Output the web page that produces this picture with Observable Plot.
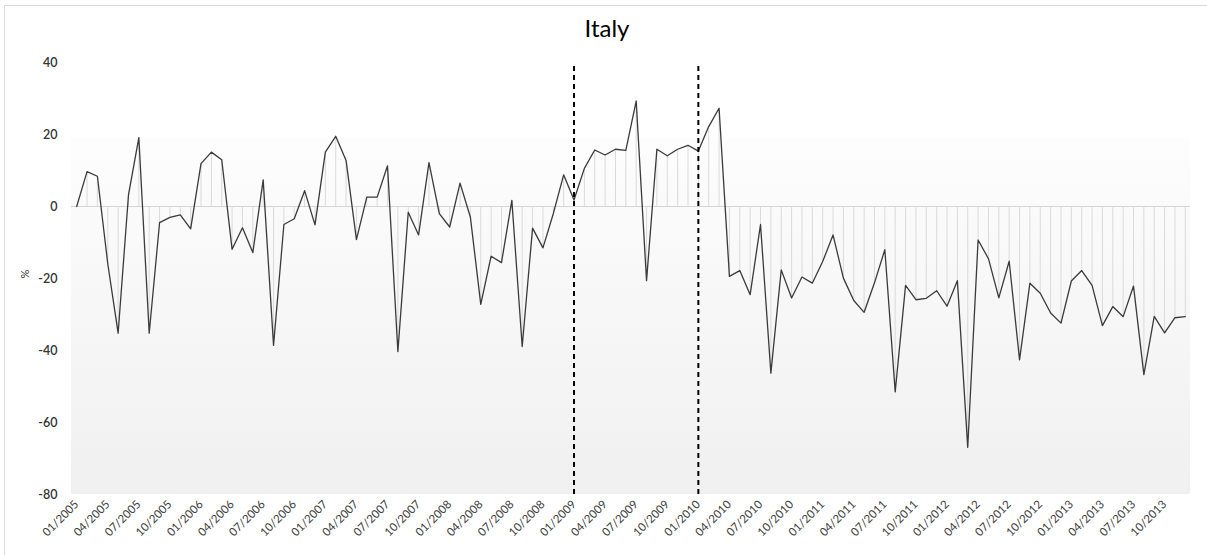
<!DOCTYPE html>
<html><head><meta charset="utf-8">
<script src="https://cdn.jsdelivr.net/npm/d3@7"></script>
<script src="https://cdn.jsdelivr.net/npm/@observablehq/plot@0.6"></script>
<style>
body{margin:0;background:#fff;}
#wrap{position:relative;width:1207px;height:555px;overflow:hidden;}
#frame{position:absolute;left:4px;top:5px;width:1220px;height:570px;border:1px solid #d9d9d9;box-sizing:border-box;}
#chart{position:absolute;left:0;top:0;}
#title{position:absolute;left:0;width:1214px;top:13px;text-align:center;font:24px Lato, sans-serif;color:#000;}
</style></head><body>
<div id="wrap"><div id="frame"></div><div id="chart"></div><div id="title">Italy</div></div>
<script>
const values = [
  0, 9.7, 8.4, -15.9, -35.2, 3.2, 19.1, -35.2, -4.5, -3.0, -2.3, -6.2,
  11.9, 15.1, 13.0, -11.9, -5.9, -12.8, 7.4, -38.6, -5.0, -3.4, 4.4, -5.1,
  15.1, 19.5, 12.8, -9.2, 2.6, 2.6, 11.3, -40.3, -1.6, -7.9, 12.2, -2.0,
  -5.7, 6.5, -3.0, -27.2, -13.8, -15.6, 1.7, -38.9, -6.0, -11.5, -2.0, 8.8,
  1.8, 10.6, 15.7, 14.3, 15.9, 15.6, 29.3, -20.6, 15.9, 14.1, 15.9, 17.0,
  15.4, 22.2, 27.3, -19.4, -17.8, -24.5, -5.0, -46.3, -17.6, -25.4, -19.6, -21.3,
  -15.3, -7.9, -19.9, -26.1, -29.4, -21.2, -12.0, -51.5, -21.9, -25.9, -25.5, -23.4,
  -27.7, -20.6, -66.9, -9.3, -14.5, -25.4, -15.2, -42.6, -21.3, -24.1, -29.6, -32.4,
  -20.7, -17.8, -21.9, -33.1, -27.8, -30.6, -22.1, -46.7, -30.5, -35.1, -30.9, -30.6
];
const tickLabels = [
  "01/2005","04/2005","07/2005","10/2005","01/2006","04/2006","07/2006","10/2006",
  "01/2007","04/2007","07/2007","10/2007","01/2008","04/2008","07/2008","10/2008",
  "01/2009","04/2009","07/2009","10/2009","01/2010","04/2010","07/2010","10/2010",
  "01/2011","04/2011","07/2011","10/2011","01/2012","04/2012","07/2012","10/2012",
  "01/2013","04/2013","07/2013","10/2013"
];
const breakMonths = [48, 60];
const yTicks = [-80, -60, -40, -20, 0, 20, 40];

const data = values.map((v, i) => ({i, v}));
const tickIdx = tickLabels.map((_, k) => k * 3);
const bg = [{x1: -0.5, x2: values.length - 0.5, y1: -80, y2: 19.2}];

const plot = Plot.plot({
  width: 1207, height: 555,
  marginLeft: 71, marginRight: 17, marginTop: 62, marginBottom: 61,
  x: {domain: [-0.5, values.length - 0.5]},
  y: {domain: [-80, 40]},
  style: {fontFamily: "Lato, sans-serif", background: "none", color: "#333"},
  marks: [
    Plot.rect(bg, {x1: "x1", x2: "x2", y1: "y1", y2: "y2", fill: "url(#bggrad)"}),
    Plot.ruleY([0], {stroke: "#d4d4d4"}),
    Plot.ruleX(data, {x: "i", y1: 0, y2: "v", stroke: "#dadada", strokeWidth: 1}),
    Plot.line(data, {x: "i", y: "v", stroke: "#3a3a3a", strokeWidth: 1.3}),
    Plot.ruleX(breakMonths, {y1: -80, y2: 40, stroke: "#000", strokeWidth: 2, strokeDasharray: "5,4"}),
    Plot.axisY({ticks: yTicks, tickFormat: d => String(d), tickSize: 0, tickPadding: 14, label: null, fontSize: 12.5, fontWeight: 600}),
    Plot.axisX({ticks: tickIdx, tickFormat: t => tickLabels[t / 3], tickRotate: -45, tickSize: 0, tickPadding: 8, fontSize: 11.5, label: null, fill: "#404040"}),
    Plot.text(["%"], {frameAnchor: "left", dx: -46, rotate: -90, fontSize: 11, fill: "#333"})
  ]
});
d3.select(plot).insert("defs", ":first-child").html(
  '<linearGradient id="bggrad" x1="0" y1="0" x2="0" y2="1">' +
  '<stop offset="0" stop-color="#fdfdfd"/><stop offset="1" stop-color="#f0f0f0"/></linearGradient>'
);
document.getElementById("chart").appendChild(plot);
</script>
</body></html>
